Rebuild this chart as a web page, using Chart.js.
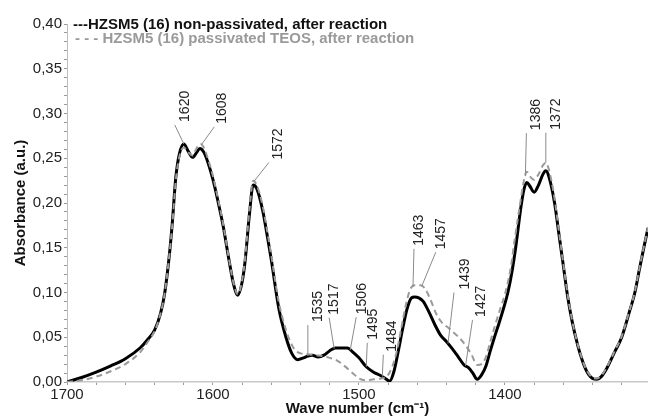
<!DOCTYPE html>
<html>
<head>
<meta charset="utf-8">
<script src="https://cdn.jsdelivr.net/npm/chart.js@4.4.1/dist/chart.umd.min.js"></script>
<style>
  html, body { margin: 0; padding: 0; background: #fff; }
  #wrap { width: 648px; height: 418px; }
</style>
</head>
<body>
<div id="wrap"><canvas id="grafico" width="648" height="418"></canvas></div>
<script>
// espectro FTIR - HZSM5 nao passivado (linha preta)
const ondaPreta = [
  1700, 1690, 1680, 1670, 1660, 1650, 1645, 1640, 1636, 1633, 1630, 1628, 1625.5, 1623, 1620,
  1617, 1614, 1611, 1609, 1606, 1603, 1600, 1597, 1593, 1589, 1586, 1583, 1580, 1578, 1575,
  1572.5, 1570, 1566, 1563, 1560, 1555, 1550, 1546, 1542, 1538, 1535, 1532, 1528, 1524, 1520,
  1516, 1508, 1504, 1500, 1495, 1490, 1485, 1482, 1479, 1476, 1473, 1470, 1467, 1464, 1462,
  1459, 1456, 1452, 1448, 1444, 1440, 1436, 1432, 1428, 1425, 1422, 1419, 1416, 1413, 1410,
  1407, 1404, 1401, 1398, 1395, 1392.5, 1389, 1387, 1385, 1383, 1380, 1377, 1374, 1372, 1370,
  1366, 1363, 1360, 1357, 1354, 1350, 1347, 1344, 1340, 1337, 1334, 1330, 1325, 1320, 1315,
  1311, 1308, 1305, 1302
]
const absPreta = [
  0.000, 0.005, 0.011, 0.018, 0.026, 0.038, 0.047, 0.058, 0.076, 0.100, 0.140, 0.175, 0.228, 0.255, 0.266,
  0.258, 0.251, 0.257, 0.261, 0.256, 0.243, 0.226, 0.205, 0.174, 0.136, 0.110, 0.097, 0.112, 0.135, 0.188,
  0.220, 0.216, 0.192, 0.165, 0.136, 0.083, 0.050, 0.032, 0.025, 0.027, 0.029, 0.030, 0.028, 0.030, 0.035,
  0.038, 0.038, 0.033, 0.027, 0.017, 0.011, 0.007, 0.004, 0.001, 0.012, 0.035, 0.060, 0.082, 0.094, 0.095,
  0.094, 0.090, 0.078, 0.064, 0.052, 0.045, 0.037, 0.028, 0.019, 0.016, 0.010, 0.003, 0.008, 0.018, 0.035,
  0.051, 0.066, 0.082, 0.100, 0.125, 0.152, 0.196, 0.215, 0.223, 0.219, 0.212, 0.220, 0.232, 0.236, 0.230,
  0.200, 0.165, 0.130, 0.095, 0.068, 0.040, 0.024, 0.012, 0.004, 0.003, 0.006, 0.016, 0.033, 0.050, 0.077,
  0.100, 0.125, 0.149, 0.172
]

// HZSM5 passivado TEOS (linha cinza tracejada)
const ondaCinza = [
  1700, 1690, 1680, 1670, 1660, 1650, 1645, 1640, 1636, 1633, 1630, 1628, 1625.5, 1623, 1620,
  1617, 1614, 1611, 1608.5, 1606, 1603, 1600, 1597, 1593, 1589, 1586, 1583, 1580, 1578, 1575,
  1572.5, 1570, 1566, 1563, 1560, 1555, 1550, 1547, 1544, 1540, 1535, 1530, 1525, 1520, 1515,
  1510, 1505, 1500, 1496, 1490, 1485, 1481, 1477, 1474, 1471, 1468, 1465, 1462, 1458, 1455,
  1451, 1447, 1443, 1439, 1435, 1431, 1427, 1423, 1419, 1416, 1413, 1410, 1407, 1403, 1400,
  1396, 1393.5, 1390, 1387, 1385, 1383, 1380, 1377, 1374, 1372, 1370, 1366, 1363, 1360, 1357,
  1354, 1350, 1347, 1344, 1340, 1337, 1334, 1330, 1325, 1320, 1315, 1311, 1308, 1305, 1302
]
const absCinza = [
  0.000, 0.002, 0.006, 0.012, 0.020, 0.033, 0.044, 0.057, 0.076, 0.100, 0.140, 0.173, 0.225, 0.252, 0.262,
  0.257, 0.253, 0.262, 0.266, 0.261, 0.247, 0.230, 0.208, 0.176, 0.137, 0.111, 0.098, 0.114, 0.138, 0.193,
  0.225, 0.220, 0.197, 0.170, 0.141, 0.090, 0.058, 0.045, 0.036, 0.032, 0.031, 0.030, 0.029, 0.027, 0.024,
  0.018, 0.011, 0.004, 0.002, 0.003, 0.004, 0.006, 0.018, 0.035, 0.060, 0.085, 0.103, 0.108, 0.108, 0.105,
  0.092, 0.076, 0.066, 0.061, 0.055, 0.049, 0.041, 0.031, 0.019, 0.020, 0.028, 0.045, 0.062, 0.083, 0.098,
  0.128, 0.157, 0.195, 0.225, 0.235, 0.230, 0.226, 0.232, 0.242, 0.245, 0.238, 0.205, 0.168, 0.132, 0.097,
  0.069, 0.041, 0.025, 0.013, 0.005, 0.004, 0.007, 0.017, 0.034, 0.051, 0.078, 0.101, 0.126, 0.150, 0.173
]

const ticksX = [1700, 1600, 1500, 1400]
const ticksY = [0.00, 0.05, 0.10, 0.15, 0.20, 0.25, 0.30, 0.35, 0.40]
const picos = [1620, 1608, 1572, 1535, 1517, 1506, 1495, 1484, 1463, 1457, 1439, 1427, 1386, 1372]

const nomePreta = '---HZSM5 (16) non-passivated, after reaction'
const nomeCinza = '- - - HZSM5 (16) passivated TEOS, after reaction'

// posicao das etiquetas dos picos (dx do topo da linha, altura, deslocamento do texto)
const layoutPicos = {
  1620: { serie: 0, dx: -9, h: 19, tdx: 1 },
  1608: { serie: 1, dx: 13, h: 18, tdx: 21 },
  1572: { serie: 1, dx: 15, h: 19, tdx: 24 },
  1535: { serie: 0, dx: 0, h: 31, tdx: 10 },
  1517: { serie: 0, dx: -5, h: 31, tdx: 0 },
  1506: { serie: 0, dx: 6, h: 33, tdx: 12 },
  1495: { serie: 0, dx: 1, h: 24, tdx: 7 },
  1484: { serie: 0, dx: 1, h: 22, tdx: 10 },
  1463: { serie: 1, dx: 1, h: 38, tdx: 6 },
  1457: { serie: 1, dx: 14, h: 34, tdx: 19 },
  1439: { serie: 0, dx: 6, h: 51, tdx: 17 },
  1427: { serie: 0, dx: 7, h: 46, tdx: 16 },
  1386: { serie: 1, dx: 1, h: 43, tdx: 11 },
  1372: { serie: 1, dx: 0, h: 30, tdx: 10 }
}

function pontos(ondas, valores) {
  return ondas.map(function(o, i) { return { x: o, y: valores[i] } })
}

function interpolar(ondas, valores, alvo) {
  for (let i = 0; i < ondas.length - 1; i++) {
    if (alvo <= ondas[i] && alvo >= ondas[i + 1]) {
      const t = (ondas[i] - alvo) / (ondas[i] - ondas[i + 1])
      return valores[i] + t * (valores[i + 1] - valores[i])
    }
  }
  return 0
}

const fonte = "'Liberation Sans', Arial, sans-serif"

const pluginPicos = {
  id: 'picos',
  afterDatasetsDraw(chart) {
    const ctx = chart.ctx
    const sx = chart.scales.x
    const sy = chart.scales.y
    ctx.save()
    picos.forEach(function(p) {
      const lay = layoutPicos[p]
      const v = lay.serie === 0 ? interpolar(ondaPreta, absPreta, p) : interpolar(ondaCinza, absCinza, p)
      const x = sx.getPixelForValue(p)
      const y = sy.getPixelForValue(v)
      const topoX = x + lay.dx
      const topoY = y - lay.h
      ctx.strokeStyle = '#8a8a8a'
      ctx.lineWidth = 1
      ctx.beginPath()
      ctx.moveTo(topoX, topoY)
      ctx.lineTo(x, y)
      ctx.stroke()
      ctx.save()
      ctx.translate(x + lay.tdx, topoY - 3)
      ctx.rotate(-Math.PI / 2)
      ctx.fillStyle = '#222'
      ctx.font = '14px ' + fonte
      ctx.textAlign = 'left'
      ctx.textBaseline = 'middle'
      ctx.fillText(String(p), 0, 0)
      ctx.restore()
    })
    // legenda em texto
    ctx.font = 'bold 15px ' + fonte
    ctx.textAlign = 'left'
    ctx.textBaseline = 'middle'
    ctx.fillStyle = '#111'
    ctx.fillText(nomePreta, 73, 25)
    ctx.fillStyle = '#9a9a9a'
    ctx.fillText(nomeCinza, 75, 39)
    ctx.restore()
  }
}

const ctx = document.getElementById('grafico').getContext('2d')
new Chart(ctx, {
  type: 'line',
  data: {
    datasets: [
      {
        data: pontos(ondaCinza, absCinza),
        borderColor: '#9a9a9a',
        borderWidth: 2,
        borderDash: [6, 4],
        pointRadius: 0,
        cubicInterpolationMode: 'monotone'
      },
      {
        data: pontos(ondaPreta, absPreta),
        borderColor: '#000',
        borderWidth: 3,
        pointRadius: 0,
        cubicInterpolationMode: 'monotone'
      }
    ]
  },
  options: {
    responsive: false,
    animation: false,
    layout: { padding: { top: 24, right: 0, bottom: 0, left: 0 } },
    plugins: { legend: { display: false }, tooltip: { enabled: false } },
    scales: {
      x: {
        type: 'linear',
        reverse: true,
        min: 1302,
        max: 1700,
        afterBuildTicks: function(s) {
          const t = []
          for (let v = 1320; v <= 1700; v += 20) t.push({ value: v })
          s.ticks = t
        },
        afterFit: function(s) { s.height = 36 },
        ticks: {
          autoSkip: false,
          maxRotation: 0,
          padding: 1,
          color: '#222',
          font: { size: 15, family: fonte },
          callback: function(v) { return ticksX.includes(v) ? String(v) : '' }
        },
        grid: { drawOnChartArea: false, tickLength: 3, color: '#999' },
        border: { color: '#c8c8c8', width: 1.5 },
        title: {
          display: true,
          text: 'Wave number (cm⁻¹)',
          color: '#111',
          font: { size: 15, weight: 'bold', family: fonte },
          padding: { top: 0, bottom: 0 }
        }
      },
      y: {
        min: 0,
        max: 0.40,
        afterBuildTicks: function(s) {
          const t = []
          for (let i = 0; i <= 40; i++) t.push({ value: i / 100 })
          s.ticks = t
        },
        afterFit: function(s) { s.width = 67 },
        ticks: {
          autoSkip: false,
          padding: 2,
          color: '#222',
          font: { size: 15, family: fonte },
          callback: function(v) {
            const r = Math.round(v * 100) / 100
            return ticksY.some(function(t) { return Math.abs(t - r) < 1e-9 }) ? r.toFixed(2).replace('.', ',') : ''
          }
        },
        grid: { drawOnChartArea: false, tickLength: 3, color: '#999' },
        border: { color: '#bdbdbd', width: 1, dash: [1, 2] },
        title: {
          display: true,
          text: 'Absorbance (a.u.)',
          color: '#111',
          font: { size: 15, weight: 'bold', family: fonte },
          padding: { top: 12, bottom: 0 }
        }
      }
    }
  },
  plugins: [pluginPicos]
})
</script>
</body>
</html>
